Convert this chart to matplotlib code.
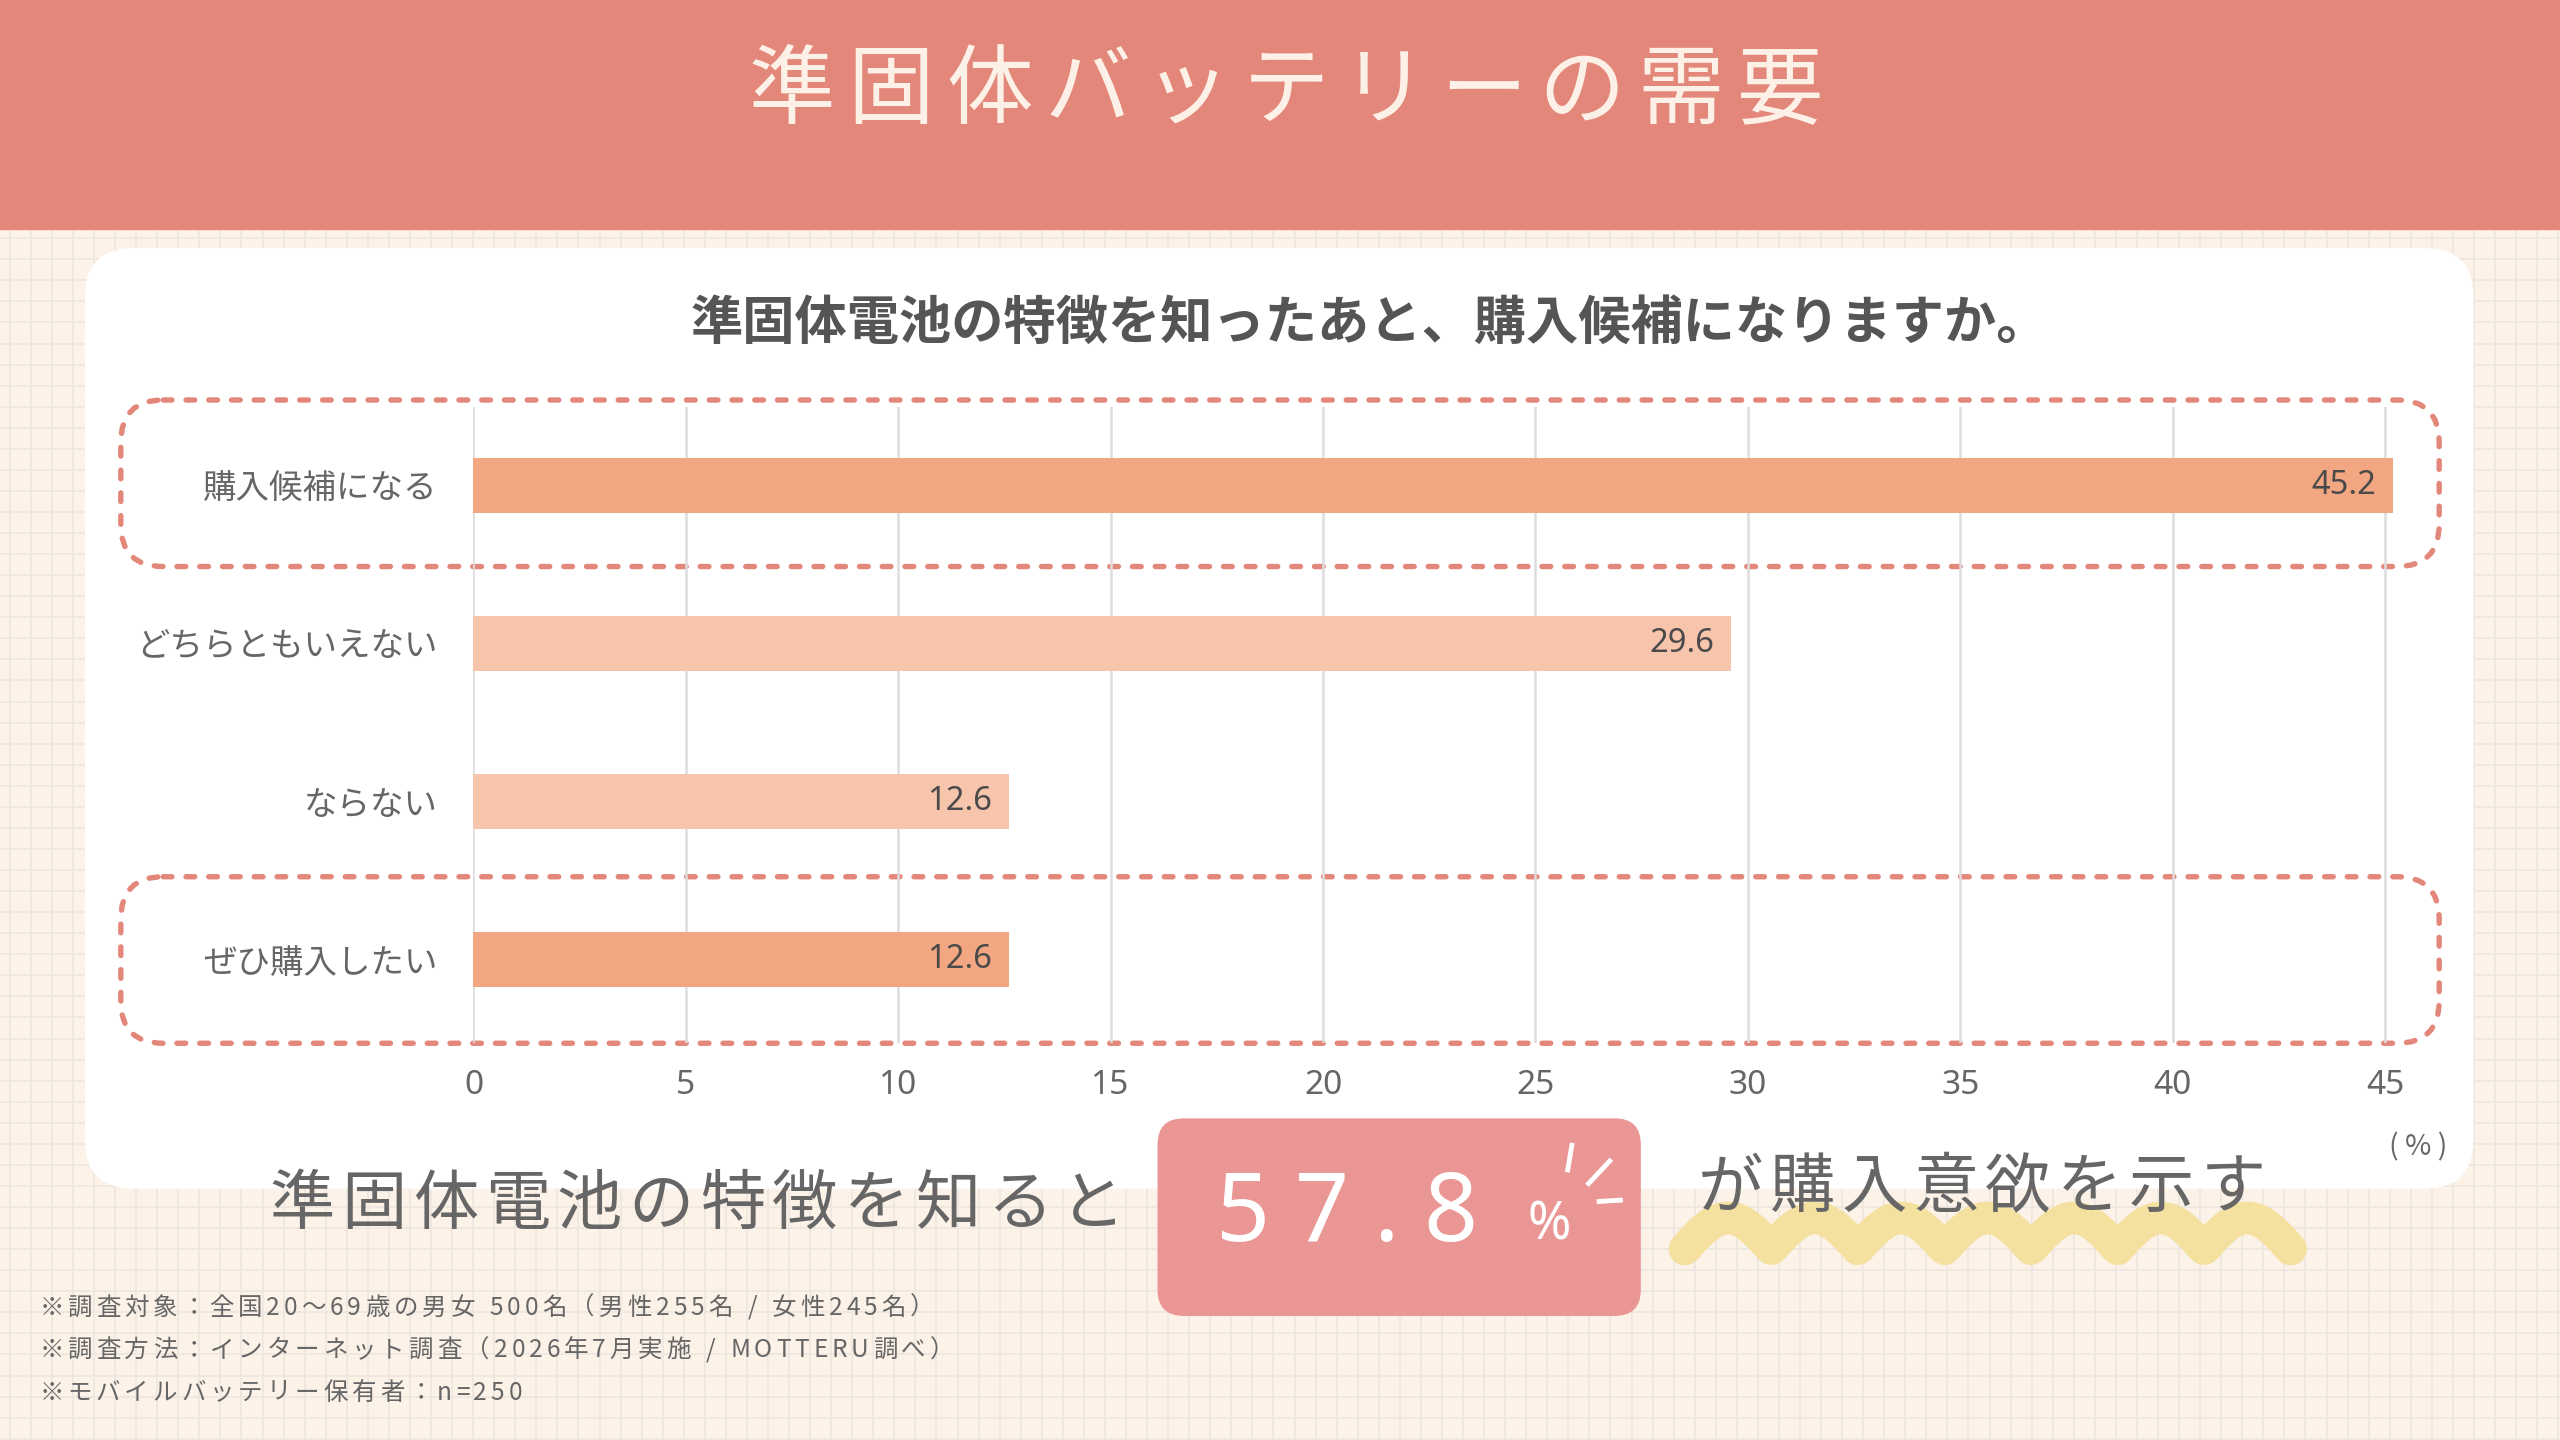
import matplotlib
matplotlib.use("Agg")
import matplotlib.pyplot as plt
import numpy as np
from matplotlib.patches import FancyBboxPatch, Rectangle

plt.rcParams['font.family'] = ['Noto Sans CJK JP', 'DejaVu Sans']

# data
categories = ['購入候補になる', 'どちらともいえない', 'ならない', 'ぜひ購入したい']
values = [45.2, 29.6, 12.6, 12.6]
highlight = [True, False, False, True]
x_ticks = [0, 5, 10, 15, 20, 25, 30, 35, 40, 45]

title = '準固体バッテリーの需要'
question = '準固体電池の特徴を知ったあと、購入候補になりますか。'
summary_left = '準固体電池の特徴を知ると'
summary_value = '57.8'
summary_right = 'が購入意欲を示す'
notes = [
    '※調査対象：全国20〜69歳の男女 500名（男性255名 / 女性245名）',
    '※調査方法：インターネット調査（2026年7月実施 / MOTTERU調べ）',
    '※モバイルバッテリー保有者：n=250',
]

# colours
HEAD = '#E4877B'
CREAM = '#FCF2E8'
GRIDBG = '#EEE7E1'
BAR_DARK = '#F2A782'
BAR_LIGHT = '#F7C5AB'
TEXT = '#666666'
PINK = '#EA9695'
YELLOW = '#F4E1A0'

W, H = 1568, 882  # layout units (scaled to 2560x1440 on save)
PT = 2560 / W * 0.72  # points per layout pixel

fig = plt.figure(figsize=(25.6, 14.4), dpi=100)
fig.patch.set_facecolor(CREAM)
renderer = fig.canvas.get_renderer()

bg = fig.add_axes([0, 0, 1, 1])
bg.set_xlim(0, W)
bg.set_ylim(H, 0)
bg.axis('off')

# graph paper background
for gx in np.arange(6, W, 12.9):
    bg.axvline(gx, color=GRIDBG, lw=1.3, zorder=0)
for gy in np.arange(4, H, 12.9):
    bg.axhline(gy, color=GRIDBG, lw=1.3, zorder=0)

# header band
bg.add_patch(Rectangle((0, 0), W, 140, color=HEAD, zorder=1))


def spaced(ax, x0, y, text, pitch, size, **kw):
    for i, ch in enumerate(text):
        ax.text(x0 + i * pitch, y, ch, fontsize=size, ha='center', va='center', **kw)


def tracked(ax, x, y, text, size, track, **kw):
    # left aligned text with extra letter spacing
    for ch in text:
        if ch == ' ':
            x += size / PT * 0.28 + track
            continue
        t = ax.text(x, y, ch, fontsize=size, ha='left', va='center', **kw)
        w = t.get_window_extent(renderer=renderer).width * W / 2560
        x += w + track


spaced(bg, 485, 57, title, 60.5, 53 * PT, color='#FDF1E7', zorder=3)

# white panel
bg.add_patch(FancyBboxPatch((52, 152), 1463, 576,
                            boxstyle='round,pad=0,rounding_size=30',
                            fc='white', ec='none', zorder=1))

bg.text(839, 198, question, fontsize=32 * PT, fontweight='bold',
        color='#555555', ha='center', va='center', zorder=3)

# dashed highlight frames
for top in (245, 537):
    bg.add_patch(FancyBboxPatch((74, top), 1420, 102,
                                boxstyle='round,pad=0,rounding_size=26',
                                fc='none', ec=HEAD, lw=3.9,
                                ls=(0, (1.6, 2.6)), capstyle='round', zorder=4))

# bar chart
x0, x1 = 290, 1466
y_top, y_bot = 249, 639
ax = fig.add_axes([x0 / W, 1 - y_bot / H, (x1 - x0) / W, (y_bot - y_top) / H])
ax.set_facecolor('none')
ypos = np.arange(len(categories))
colors = [BAR_DARK if h else BAR_LIGHT for h in highlight]
ax.barh(ypos, values, height=0.35, color=colors, zorder=2)
ax.set_xlim(0, 45.2)
ax.set_ylim(3.5 + 0.03, -0.5)
ax.set_xticks(x_ticks)
ax.set_xticklabels([str(t) for t in x_ticks], fontsize=20.5 * PT, color=TEXT,
                   family=['Noto Sans', 'DejaVu Sans'])
ax.set_yticks(ypos)
ax.set_yticklabels(categories, fontsize=20.5 * PT, color=TEXT)
ax.tick_params(axis='both', length=0)
ax.tick_params(axis='x', pad=16 * PT)
ax.tick_params(axis='y', pad=22 * PT)
ax.grid(axis='x', color='#DDDDDD', lw=1.8, zorder=0)
for s in ax.spines.values():
    s.set_visible(False)
for y, v in zip(ypos, values):
    ax.text(v - 0.4, y, f'{v:.1f}', ha='right', va='center',
            fontsize=20 * PT, color='#4A4A4A', zorder=3,
            family=['Noto Sans', 'DejaVu Sans'])

bg.text(1481, 703, '( % )', fontsize=17.5 * PT, color=TEXT, ha='center', va='center', zorder=3)

# summary line
spaced(bg, 185, 738, summary_left, 44, 40 * PT, color=TEXT, zorder=5)

bg.add_patch(FancyBboxPatch((709, 685), 296, 121,
                            boxstyle='round,pad=0,rounding_size=16',
                            fc=PINK, ec='none', zorder=3))
tracked(bg, 745, 745, summary_value, 58 * PT, 15, color='white', zorder=5,
        family=['Noto Sans', 'DejaVu Sans'])
bg.text(949, 751, '%', fontsize=32 * PT, color='white', ha='center', va='center', zorder=5,
        family=['Noto Sans', 'DejaVu Sans'])
# sparkle strokes
for (sx, sy, ex, ey, lw) in [(963, 700, 960, 718, 3.5), (987, 710, 972, 726, 3.5),
                             (978, 736, 994, 735, 3.5)]:
    bg.plot([sx, ex], [sy, ey], color='white', lw=lw, solid_capstyle='butt', zorder=5)

# yellow wavy underline
wx = np.linspace(1032, 1403, 600)
wy = 765 - 19 * np.abs(np.sin(np.pi * (wx - 1032) / 53))
bg.plot(wx, wy, color=YELLOW, lw=20 * PT, solid_capstyle='round', zorder=4)

spaced(bg, 1060, 728, summary_right, 44, 40 * PT, color=TEXT, zorder=5)

# footnotes
for i, note in enumerate(notes):
    tracked(bg, 24, 801 + i * 26, note, 15 * PT, 2.4, color=TEXT, zorder=3)

fig.savefig('out.png', dpi=100, facecolor=CREAM)
